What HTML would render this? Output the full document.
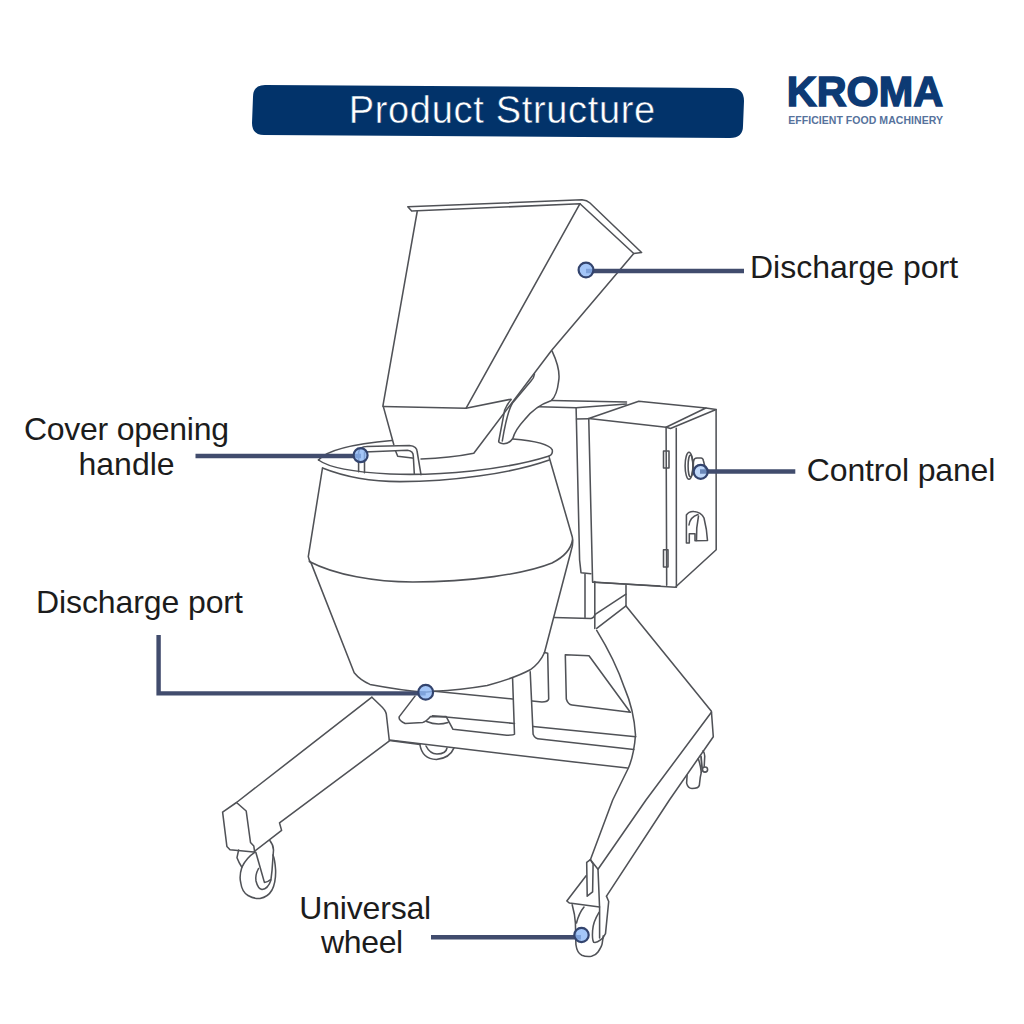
<!DOCTYPE html>
<html><head><meta charset="utf-8">
<style>
html,body{margin:0;padding:0;background:#fff;}
body{width:1024px;height:1024px;position:relative;overflow:hidden;font-family:"Liberation Sans",sans-serif;}
.t{position:absolute;white-space:nowrap;color:#1c1c1c;font-size:30px;line-height:1;}
svg{position:absolute;left:0;top:0;}
</style></head><body>
<svg width="1024" height="1024" viewBox="0 0 1024 1024">
<!-- title bar -->
<path d="M265,85 L731,88 Q744,88 744,101 L743,126 Q743,138 730,138 L264,135 Q252,135 252,123 L253,97 Q253,85 265,85 Z" fill="#02336a"/>
<text x="348.7" y="122.8" fill="#fff" font-family="Liberation Sans" font-size="38" letter-spacing="0.68" stroke="#02336a" stroke-width="0.5">Product Structure</text>
<!-- logo -->
<text x="786.8" y="106.3" fill="#0d3a74" stroke="#0d3a74" stroke-width="1.5" stroke-linejoin="miter" font-family="Liberation Sans" font-weight="bold" font-size="43.2" textLength="156.4" lengthAdjust="spacingAndGlyphs">KROMA</text>
<text x="788.2" y="124.3" fill="#56729c" font-family="Liberation Sans" font-weight="bold" font-size="10.5" letter-spacing="0.05">EFFICIENT FOOD MACHINERY</text>

<g fill="none" stroke="#505257" stroke-width="1.55" stroke-linejoin="round" stroke-linecap="round">
<!-- hopper rim -->
<path d="M407.8,206.8 L582,199.8 Q587,200.2 590,203 L641.6,252.5 L633.75,253.5 L580,203.7 L411.7,211.1 Z"/>
<!-- hopper sides -->
<path d="M417.2,211.5 L383,405.4 L393.75,444.5"/>
<path d="M580,203.7 L466,408.3"/>
<path d="M633.75,253.5 L551.7,350.2 L473.8,453.2 Q450,458 421,459"/>
<path d="M383,406.4 L466,408.3 L511,399.2"/>
<!-- spout -->
<path d="M552.1,351.1 Q561,370 558.5,382 Q557,395 551.5,400.4 Q535,406 524.5,419.7 Q515,430 512.8,438.5 Q509,444 503.4,443.75 Q498,443 498.8,440.8 L504.6,410.3 Q507,404 511,399.8"/>
<path d="M534.5,374 Q534,378 531,381 L512.5,403 Q507,412 502.3,441"/>
<!-- back box -->
<path d="M552,400.4 L626.5,402"/>
<path d="M538.6,406.8 L576.1,407.8 L626.5,404"/>
<path d="M576.1,407.8 L579.6,560 L581,572.7 L590.9,573.7"/>
<!-- control panel box -->
<path d="M588.75,418.6 L638.75,401.25 L705.9,408 L666.1,427.2 Z"/>
<path d="M666.1,427.2 L670.5,428.5 L716.1,409.5 L705.9,408"/>
<path d="M588.75,418.6 L592.6,582 L675.3,587.3 L716.2,549.7 L716.1,409.5"/>
<path d="M666.1,427.2 L666.7,585.2"/>
<path d="M676.25,428.3 L676.4,587.3"/>
<path d="M576.5,418.9 L588.6,418.7"/>
<path d="M663.5,451 L669,451 L669,468 L663.5,468 Z"/>
<path d="M663.5,549.7 L668,549.7 L668,567 L663.5,567 Z"/>
<ellipse cx="689" cy="465.8" rx="3.9" ry="13.5"/>
<ellipse cx="690.5" cy="466" rx="2.4" ry="11"/>
<path d="M693.5,461 Q694,458 697,458 L701,458 Q703,458 703.5,461 L705.5,469"/>
<path d="M693.5,461 L693,474"/>
<path d="M686.4,515 Q689,511 694,511.5 Q701,512 704,518 Q707,530 707.5,540.5 L695,540.8 L695,533.8 L689.3,533.8 L689.3,543 L686.4,543 Z"/>
<path d="M698,514.5 Q690,517 689,525"/>
<path d="M698.5,516 Q696,528 696.5,540.5"/>
<!-- lid -->
<path d="M318.5,460 Q330,446 391.8,440.5"/>
<path d="M512.8,439 Q548,442 552.3,449.8 Q553,454 549.2,456"/>
<path d="M318.5,460 C328,467 350,472 390,474 C440,476 505,470 549.2,456"/>
<path d="M322.5,468 C345,477 370,481.6 400,481.6 C450,481.6 510,474 549.3,460"/>
<!-- handle -->
<path d="M358.6,471.8 L358.6,452 Q360,446.4 366.4,446.4 L409.4,445.4 Q417.2,446 417.2,452 L421,474.7"/>
<path d="M364.5,472.8 L364.5,452 L407.4,450.3 Q413.3,451 413.3,456 L414.3,473.75"/>
<path d="M395.7,451.3 L397.7,456.2 L412.3,458.1"/>
<!-- bowl -->
<path d="M322.5,468 L308.3,556.6 Q309,561 311.25,563.4 L354.2,672.8 Q360,680 370,684.4 Q400,690 424.5,692.3 L434.5,691.25 Q460,690 487.2,685.4 Q515,678 530.2,669.8 Q540,663 544.5,652.5"/>
<path d="M549.3,457.7 L572.3,537 Q573.5,544 571.3,550 L544.5,652.5"/>
<path d="M309.3,561.5 C335,575 375,582 412.8,582 C470,582 525,574 552,563 C564,557 571,549 572.5,540"/>
<!-- frame under bowl -->
<path d="M434.5,691.25 L512.6,699"/>
<path d="M512.6,678.6 L514.5,734.2 Q514,735.2 506.7,735.2 L453,729.3 L446.2,716.6 L430.5,716.6 Q426,722 422.7,722.5 L405.2,723.5 Q398,720 399.3,716.6 L415,696.1"/>
<path d="M432.5,715.7 L514.5,723.5"/>
<path d="M426.6,721.5 Q437,726 448.1,722.5"/>
<path d="M389.5,740 L570,761.6 L627.4,768"/>
<path d="M419.8,744 Q422,759 436.4,759.6 Q450,758 454,747.9"/>
<path d="M426,746 Q430,754 437,754 Q446,754 447,748"/>
<path d="M530.2,671.7 L533.1,734.2 Q535,739 540,739.1 L633.8,749.5"/>
<path d="M533.1,726.4 L635.8,736.75"/>
<path d="M544.5,652.5 L547.7,653.3 L548.7,699 Q548,702 541.9,702 L532.1,701"/>
<path d="M565.3,654.7 L566.3,699 Q568,704.5 572,705 L630.3,712.3 L589,655.7 Z"/>
<path d="M553.75,617.6 L590.9,618.6 Q594.8,617 594.8,614.7"/>
<path d="M585,574.6 L585,617.6"/>
<path d="M594.8,581.5 L594.8,628.4"/>
<path d="M592.8,582.3 L660,586"/>
<path d="M594.8,614.7 L626,594.2 L626,585.4"/>
<path d="M596.7,628.4 L626,605.9 L626,594.2"/>
<!-- right back leg -->
<path d="M626,605.9 L711.4,711.3 L713.3,736.7 L669.4,800 L606.5,896.2"/>
<path d="M711.4,712.3 L646,800 L598,869.3"/>
<path d="M596.7,630.3 Q615,660 624.5,687.9 Q634,710 635.5,735 Q634,755 628.4,768 L612.7,800 L590.4,859.7"/>
<path d="M687.1,775.3 L686.6,783.1 Q688,788.5 692,788.5 Q698.5,788.5 699.3,785.5 L700.3,777.2 L701.3,772.3"/>
<path d="M698.3,758.7 Q700.5,765 701.3,772.3"/>
<path d="M703.2,750.8 Q705,754 704.7,757 L704.2,766.5"/>
<path d="M701,756.5 L702.3,770.5" stroke-width="1.8"/>
<circle cx="705" cy="769.5" r="2.6"/>
<!-- left leg -->
<path d="M371.9,697.2 L236.5,802.5 L222.6,812.1 L226.9,846.5 L230,849.7 L253.7,852 L281.6,830.4 L279.5,822.9 L389.1,741.2"/>
<path d="M236.5,802.5 L246.2,811 L250.5,842.5 L253.8,846 L254.7,852.3"/>
<path d="M371.9,697.2 L380.5,705.5 Q385.5,710 386.3,714 L389.3,740.5 L420,744.5"/>
<path d="M254.7,852.3 Q246,858 241.9,867.3 Q239,876 240.8,883 Q242,892 248,895.5 Q254,899 260,898.5 Q268,897 272,890 Q276,882 275.6,870 Q275,860 273,855"/>
<path d="M238.6,850.1 L237,857.7 Q239,863 241.9,867.3"/>
<path d="M269.8,840.5 Q273.5,845 273.5,850 L272,870.6 L271,879.2 Q268,882 264.4,882.4 L260.1,867.3 L255.8,852.3"/>
<path d="M258.5,868.5 Q255,875 256,881 Q258,889 262,889.6 Q268,889 271,880"/>
<!-- front wheel -->
<path d="M586.7,862.3 L590.4,859.7 L593.1,864 L592.6,891.9 L587.2,896.2 Z"/>
<path d="M590.4,859.7 L598,869.3 L599.6,908 L599.6,938"/>
<path d="M586.1,875.8 L566.8,901 L569.5,903.1 L599.6,907"/>
<path d="M606.5,896.2 L608.7,901.5 L605.5,933.7 L602.8,938"/>
<path d="M572.2,904.8 Q575,915 575.4,923 L575.9,944.5 Q577,953 581.8,955.2 Q586,957 591.5,956.3 Q596,955 598,952 Q602,946 602.2,943.4 L603.3,935.9"/>
<path d="M584,907 Q579,913 576.5,923"/>
<path d="M599,912.3 Q593,922 592.6,930.5 Q592,940 593.7,942.3 Q597,943 600.1,940.2 L602.8,938"/>
</g>

<!-- leader lines -->
<g stroke="#414c6d" stroke-width="4.4" fill="none">
<path d="M586,271 L744,271"/>
<path d="M195.5,456 L361,456"/>
<path d="M700,471.5 L795.3,471.5"/>
<path d="M158.6,635 L158.6,693.4 L425.7,693.4"/>
<path d="M431,937.2 L581,937.2"/>
</g>
<g fill="#8db8f6" fill-opacity="0.8" stroke="#33446e" stroke-width="2.2">
<circle cx="586" cy="270" r="7.4"/>
<circle cx="360.6" cy="455.2" r="7"/>
<circle cx="700.7" cy="471.8" r="7" fill-opacity="0.55"/>
<circle cx="425.7" cy="692.2" r="7.4"/>
<circle cx="581.5" cy="935" r="7.2"/>
</g>
<g fill="#1c1c1c" font-family="Liberation Sans" font-size="32">
<text x="750" y="277.6">Discharge port</text>
<text x="23.9" y="440.2" letter-spacing="-0.25">Cover opening</text>
<text x="78.5" y="474.5">handle</text>
<text x="806.8" y="481" letter-spacing="-0.15">Control panel</text>
<text x="36" y="613" letter-spacing="-0.1">Discharge port</text>
<text x="299.3" y="919.3" letter-spacing="-0.18">Universal</text>
<text x="321" y="953" letter-spacing="-0.35">wheel</text>
</g>
</svg>

</body></html>
